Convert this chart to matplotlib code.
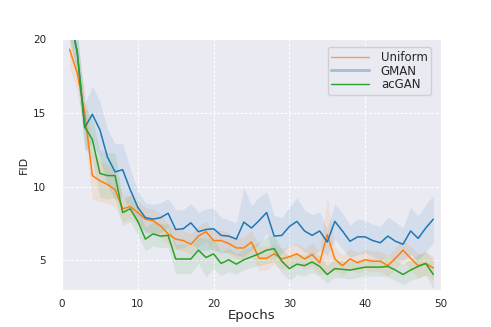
import numpy as np
import matplotlib
matplotlib.use("Agg")
from matplotlib import pyplot as plt
import seaborn as sns

epochs = list(range(1, 50))

uniform = [19.3, 17.7, 15.0, 10.75, 10.4, 10.15, 9.8, 8.5, 8.65, 8.25,
           7.8, 7.7, 7.35, 6.8, 6.45, 6.35, 6.1, 6.65, 6.95, 6.35,
           6.35, 6.15, 5.85, 5.85, 6.25, 5.15, 5.15, 5.45, 5.1, 5.25,
           5.45, 5.1, 5.4, 4.85, 6.75, 5.1, 4.65, 5.1, 4.85, 5.05,
           4.95, 4.95, 4.65, 5.15, 5.7, 5.15, 4.65, 4.8, 4.5]
gman = [21.5, 19.2, 14.0, 14.9, 13.85, 12.0, 11.0, 11.15, 9.8, 8.6,
        7.9, 7.8, 7.9, 8.2, 7.1, 7.15, 7.55, 6.95, 7.1, 7.15,
        6.7, 6.65, 6.45, 7.6, 7.2, 7.7, 8.25, 6.65, 6.7, 7.3,
        7.65, 7.0, 6.7, 7.0, 6.25, 7.65, 7.0, 6.3, 6.6, 6.6,
        6.35, 6.2, 6.65, 6.3, 6.1, 7.0, 6.5, 7.2, 7.8]
acgan = [21.5, 19.1, 14.05, 13.2, 10.9, 10.75, 10.75, 8.25, 8.5, 7.65,
         6.45, 6.8, 6.65, 6.7, 5.1, 5.1, 5.1, 5.7, 5.2, 5.45,
         4.8, 5.05, 4.75, 5.05, 5.25, 5.45, 5.7, 5.8, 4.95, 4.45,
         4.75, 4.65, 4.9, 4.6, 4.05, 4.45, 4.4, 4.35, 4.45, 4.55,
         4.55, 4.55, 4.6, 4.35, 4.05, 4.35, 4.6, 4.8, 4.05]

# spread of the shaded bands
uniform_sd = [1.2, 1.3, 1.5, 1.6, 1.4, 1.3, 1.2, 0.9, 0.8, 0.8,
              0.8, 0.8, 0.8, 0.7, 0.7, 0.7, 0.7, 0.7, 0.7, 0.7,
              0.7, 0.7, 0.7, 0.7, 0.8, 0.8, 0.8, 0.7, 0.7, 0.7,
              0.7, 0.7, 0.8, 0.8, 2.6, 0.8, 0.7, 0.7, 0.7, 0.7,
              0.7, 0.7, 0.7, 0.7, 0.7, 0.8, 0.8, 0.8, 0.8]
gman_sd = [1.5, 1.5, 1.6, 1.9, 1.9, 1.9, 1.9, 1.8, 1.4, 1.1,
           1.0, 1.0, 1.0, 1.0, 1.3, 1.3, 1.3, 1.3, 1.4, 1.4,
           1.2, 1.1, 1.1, 2.3, 1.5, 1.6, 1.4, 1.4, 1.2, 1.3,
           1.6, 1.4, 1.4, 1.3, 0.9, 1.2, 1.2, 1.1, 1.2, 1.1,
           1.1, 1.1, 1.3, 1.3, 1.1, 1.6, 1.5, 1.6, 1.6]
acgan_sd = [1.5, 1.5, 1.4, 1.4, 1.6, 1.6, 1.5, 0.9, 0.9, 0.9,
            0.8, 0.8, 0.8, 0.8, 1.0, 1.0, 1.0, 0.9, 1.3, 1.0,
            0.8, 0.8, 0.7, 0.7, 0.7, 0.8, 0.9, 0.9, 0.8, 0.8,
            0.7, 0.7, 0.7, 0.7, 0.6, 0.6, 0.6, 0.6, 0.6, 0.6,
            0.6, 0.6, 0.7, 0.7, 0.7, 0.7, 0.8, 0.8, 1.0]

sns.set_style("darkgrid")
plt.rcParams['font.family'] = ['DejaVu Sans']

fig = plt.figure(figsize=(4.91, 3.27), dpi=100)
ax = fig.add_axes([0.1263, 0.1131, 0.7717, 0.7676])
ax.grid(True, color="white", lw=0.8, linestyle=(0, (2.5, 1.5)))

series = [
    (uniform, uniform_sd, "tab:orange", "Uniform"),
    (gman, gman_sd, "tab:blue", "GMAN"),
    (acgan, acgan_sd, "tab:green", "acGAN"),
]
x = np.array(epochs)
for vals, sd, col, name in series:
    v = np.array(vals)
    s = np.array(sd)
    ax.fill_between(x, v - s, v + s, color=col, alpha=0.11, lw=0)
for vals, sd, col, name in series:
    ax.plot(x, vals, color=col, lw=1.1)

# legend handles drawn as in the reference
h1, = ax.plot([], [], color="tab:orange", lw=1.0, alpha=0.7)
h2, = ax.plot([], [], color="tab:blue", lw=2.2, alpha=0.35)
h3, = ax.plot([], [], color="tab:green", lw=1.0)
ax.legend([h1, h2, h3], ["Uniform", "GMAN", "acGAN"], loc="upper right",
          fontsize=8.5, labelspacing=0.05, handlelength=3.2, handletextpad=1.0,
          borderpad=0.3, framealpha=0.85, bbox_to_anchor=(0.99, 0.99))

ax.set_xlim(0, 50)
ax.set_ylim(3, 20)
ax.set_xticks([0, 10, 20, 30, 40, 50])
ax.set_yticks([5, 10, 15, 20])
ax.tick_params(axis="x", labelsize=7.5, pad=3)
ax.tick_params(axis="y", labelsize=7.5, pad=8)
ax.set_xlabel("Epochs", fontsize=9.5, labelpad=0)
ax.set_ylabel("FID", fontsize=8, labelpad=3)

fig.savefig("out.png", dpi=100)
